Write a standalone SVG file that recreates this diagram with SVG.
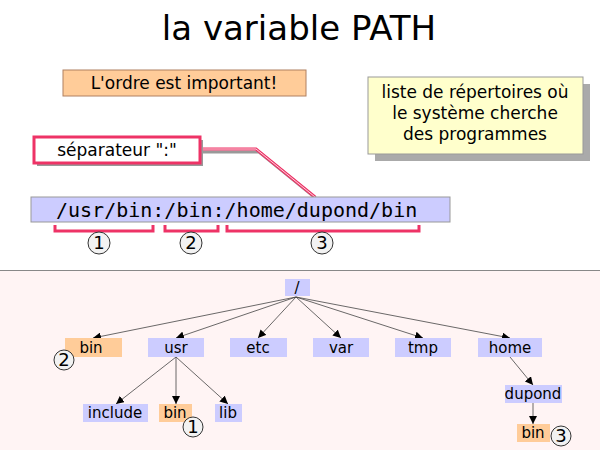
<svg xmlns="http://www.w3.org/2000/svg" width="600" height="450" viewBox="0 0 600 450">
<style>
text{font-family:"DejaVu Sans",sans-serif;fill:#000}
.n{font-size:15px;text-anchor:middle}
.b{fill:#ccccff}
.o{fill:#ffcc99}
.c{fill:#f2f2f2;stroke:#333;stroke-width:1}
.ct{font-size:18px;text-anchor:middle}
.e{stroke:#444;stroke-width:0.8;fill:none;marker-end:url(#a)}
.br{stroke:#ee3366;stroke-width:3;fill:none}
.m{font-family:"DejaVu Sans Mono",monospace;font-size:20px}
</style>
<defs><marker id="a" markerWidth="8" markerHeight="8" refX="8" refY="4" orient="auto" markerUnits="userSpaceOnUse"><path d="M0,0 L8,4 L0,8z" fill="#000"/></marker></defs>
<rect width="600" height="450" fill="#fff"/>
<rect y="270" width="600" height="180" fill="#fff4f4"/>
<line x1="0" y1="270.5" x2="600" y2="270.5" stroke="#888" stroke-width="1"/>
<text x="299" y="40" font-size="34" text-anchor="middle">la variable PATH</text>
<g id="ordre"><rect x="63" y="70" width="243" height="26" fill="#ffcc99" stroke="#b08060"/><text x="184" y="89" font-size="17" text-anchor="middle">L'ordre est important!</text></g>
<g id="liste"><rect x="375" y="84" width="215" height="77" fill="#aaa"/><rect x="368" y="77" width="215" height="77" fill="#ffffcc" stroke="#999"/>
<text x="475" y="98" font-size="17" text-anchor="middle">liste de répertoires où</text>
<text x="475" y="119" font-size="17" text-anchor="middle">le système cherche</text>
<text x="475" y="140" font-size="17" text-anchor="middle">des programmes</text></g>
<g id="connectors">
<path d="M203,152 L259,152 L318,200" stroke="#999" stroke-width="3" fill="none"/>
<path d="M200,149 L256,149 L315,197" stroke="#ee3366" stroke-width="3" fill="none"/>
<path d="M200,149 L256,149 L315,197" stroke="#fff" stroke-width="0.8" fill="none"/>
<path class="br" d="M55,225 V231 H153 V225 M165,225 V231 H218 V225 M227,225 V231 H419 V225"/>
<path class="e" d="M296,297 L93,338"/>
<path class="e" d="M296,297 L176,338"/>
<path class="e" d="M296,297 L258,338"/>
<path class="e" d="M296,297 L341,338"/>
<path class="e" d="M296,297 L423,338"/>
<path class="e" d="M296,297 L510,338"/>
<path class="e" d="M176,357 L116,404"/>
<path class="e" d="M176,357 L176,404"/>
<path class="e" d="M176,357 L228,404"/>
<path class="e" d="M510,357 L533,385"/>
<path class="e" d="M533,403 L533,424"/>
</g>
<g id="sep"><rect x="37" y="140" width="166" height="26" fill="#999"/><rect x="34" y="137" width="166" height="26" fill="#fff" stroke="#ee3366" stroke-width="3"/><text x="117" y="156" font-size="17" text-anchor="middle">séparateur ":"</text></g>
<g id="path"><rect x="31" y="197" width="419" height="25" fill="#ccccff" stroke="#999"/><text class="m" x="56" y="217">/usr/bin:/bin:/home/dupond/bin</text></g>
<g id="c1a"><circle class="c" cx="99" cy="243" r="11"/><text class="ct" x="99" y="249">1</text></g>
<g id="c2a"><circle class="c" cx="191" cy="243" r="11"/><text class="ct" x="191" y="249">2</text></g>
<g id="c3a"><circle class="c" cx="322" cy="243" r="11"/><text class="ct" x="322" y="249">3</text></g>
<g id="root"><rect class="b" x="285" y="279" width="25" height="17"/><text class="n" x="297" y="293">/</text></g>
<g id="bin2"><rect class="o" x="65" y="338" width="57" height="19"/><text class="n" x="91" y="353">bin</text></g>
<g id="usr"><rect class="b" x="148" y="338" width="56" height="19"/><text class="n" x="176" y="353">usr</text></g>
<g id="etc"><rect class="b" x="230" y="338" width="57" height="19"/><text class="n" x="258" y="353">etc</text></g>
<g id="var"><rect class="b" x="313" y="338" width="56" height="19"/><text class="n" x="341" y="353">var</text></g>
<g id="tmp"><rect class="b" x="395" y="338" width="56" height="19"/><text class="n" x="423" y="353">tmp</text></g>
<g id="home"><rect class="b" x="478" y="338" width="64" height="19"/><text class="n" x="510" y="353">home</text></g>
<g id="include"><rect class="b" x="83" y="404" width="65" height="18"/><text class="n" x="115" y="418">include</text></g>
<g id="bin1"><rect class="o" x="159" y="404" width="33" height="18"/><text class="n" x="175" y="418">bin</text></g>
<g id="lib"><rect class="b" x="215" y="404" width="27" height="18"/><text class="n" x="228" y="418">lib</text></g>
<g id="dupond"><rect class="b" x="505" y="385" width="57" height="18"/><text class="n" x="533" y="399">dupond</text></g>
<g id="bin3"><rect class="o" x="517" y="424" width="33" height="18"/><text class="n" x="533" y="438">bin</text></g>
<g id="c2"><circle class="c" cx="64" cy="360" r="10"/><text class="ct" x="64" y="366">2</text></g>
<g id="c1"><circle class="c" cx="193" cy="427" r="10"/><text class="ct" x="193" y="433">1</text></g>
<g id="c3"><circle class="c" cx="561" cy="436" r="10"/><text class="ct" x="561" y="442">3</text></g>
</svg>
